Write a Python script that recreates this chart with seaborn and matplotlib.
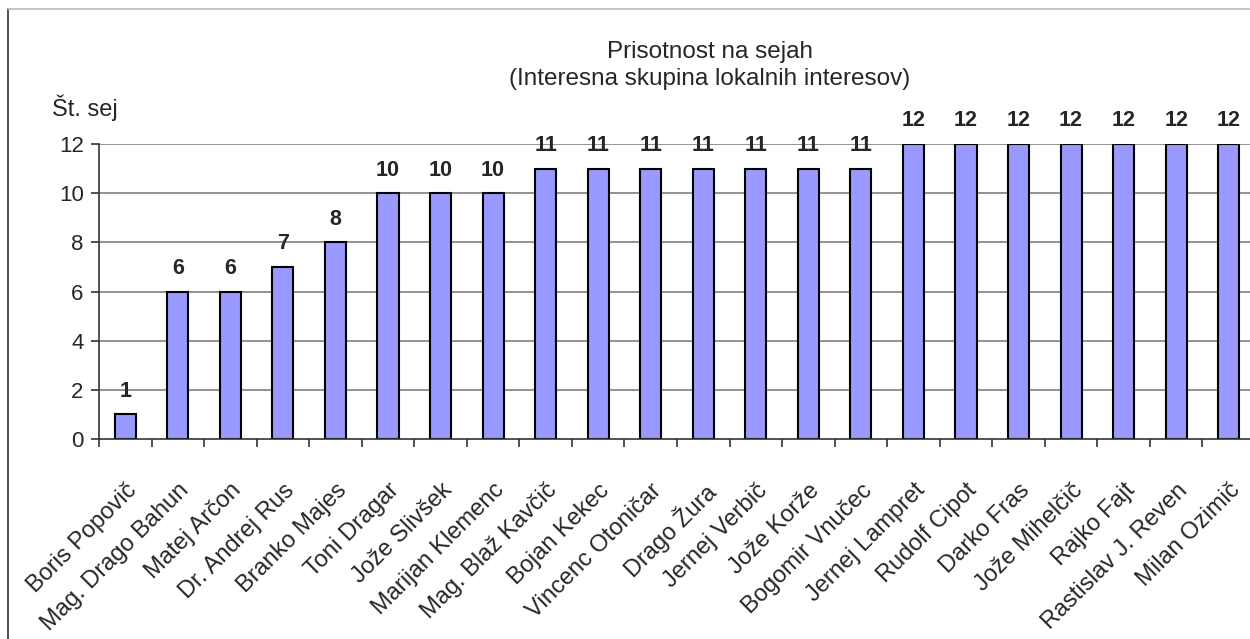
import matplotlib
matplotlib.use("Agg")
import matplotlib.pyplot as plt
import seaborn as sns
import pandas as pd
from matplotlib.lines import Line2D

names = ["Boris Popovič", "Mag. Drago Bahun", "Matej Arčon", "Dr. Andrej Rus",
         "Branko Majes", "Toni Dragar", "Jože Slivšek", "Marijan Klemenc",
         "Mag. Blaž Kavčič", "Bojan Kekec", "Vincenc Otoničar", "Drago Žura",
         "Jernej Verbič", "Jože Korže", "Bogomir Vnučec", "Jernej Lampret",
         "Rudolf Cipot", "Darko Fras", "Jože Mihelčič", "Rajko Fajt",
         "Rastislav J. Reven", "Milan Ozimič"]
sessions = [1, 6, 6, 7, 8, 10, 10, 10, 11, 11, 11, 11, 11, 11, 11,
            12, 12, 12, 12, 12, 12, 12]
yticks = [0, 2, 4, 6, 8, 10, 12]

sns.set_theme(style="white")
plt.rcParams['font.family'] = ['Liberation Sans', 'DejaVu Sans']

df = pd.DataFrame({"name": names, "sessions": sessions})

fig = plt.figure(figsize=(12.5, 6.39), dpi=100)
ax = fig.add_axes([99/1250, 1-439/639, (1255-99)/1250, (439-144)/639])

sns.barplot(data=df, x="name", y="sessions", ax=ax, color="#9999FF",
            edgecolor="black", linewidth=1.5, width=0.4, saturation=1)

ax.set_ylim(0, 12)
ax.set_xlim(-0.5, len(names) - 0.5)
ax.set_yticks(yticks)
ax.set_yticklabels([str(t) for t in yticks], fontsize=16)
for t in yticks[1:]:
    ax.axhline(t, color="#808080", lw=1.2, zorder=0)

ax.set_xticks([i - 0.5 for i in range(len(names) + 1)], minor=False)
ax.set_xticklabels([""] * (len(names) + 1))
ax.set_xticks(range(len(names)), minor=True)
ax.set_xticklabels(names, minor=True, rotation=45, ha="right",
                   rotation_mode="anchor", fontsize=17)
ax.tick_params(axis="x", which="major", length=6, width=1.2, color="#333333",
               direction="out", bottom=True)
ax.tick_params(axis="x", which="minor", length=0, pad=29)
ax.tick_params(axis="y", length=6, width=1.2, color="#333333",
               direction="out", left=True, pad=5)

for s in ["top", "right"]:
    ax.spines[s].set_visible(False)
ax.spines["left"].set_color("#333333")
ax.spines["bottom"].set_color("#333333")
ax.spines["left"].set_linewidth(1.2)
ax.spines["bottom"].set_linewidth(1.2)
ax.set_xlabel("")
ax.set_ylabel("")

for i, v in enumerate(sessions):
    ax.annotate(str(v), (i, v), xytext=(0, 9), textcoords="offset points",
                ha="center", va="bottom", fontsize=15.5, fontweight="bold",
                annotation_clip=False)

fig.text(710/1250, 1-52/639, "Prisotnost na sejah", ha="center", va="center",
         fontsize=17.5)
fig.text(710/1250, 1-79/639, "(Interesna skupina lokalnih interesov)",
         ha="center", va="center", fontsize=17.5)
fig.text(52/1250, 1-108/639, "Št. sej", ha="left", va="center", fontsize=17)

fig.add_artist(Line2D([8/1250, 8/1250], [0, 1-9/639], transform=fig.transFigure,
                      color="#333333", lw=1.2))
fig.add_artist(Line2D([8/1250, 1], [1-9/639, 1-9/639], transform=fig.transFigure,
                      color="#bbbbbb", lw=1.2))

fig.savefig("out.png", dpi=100)
